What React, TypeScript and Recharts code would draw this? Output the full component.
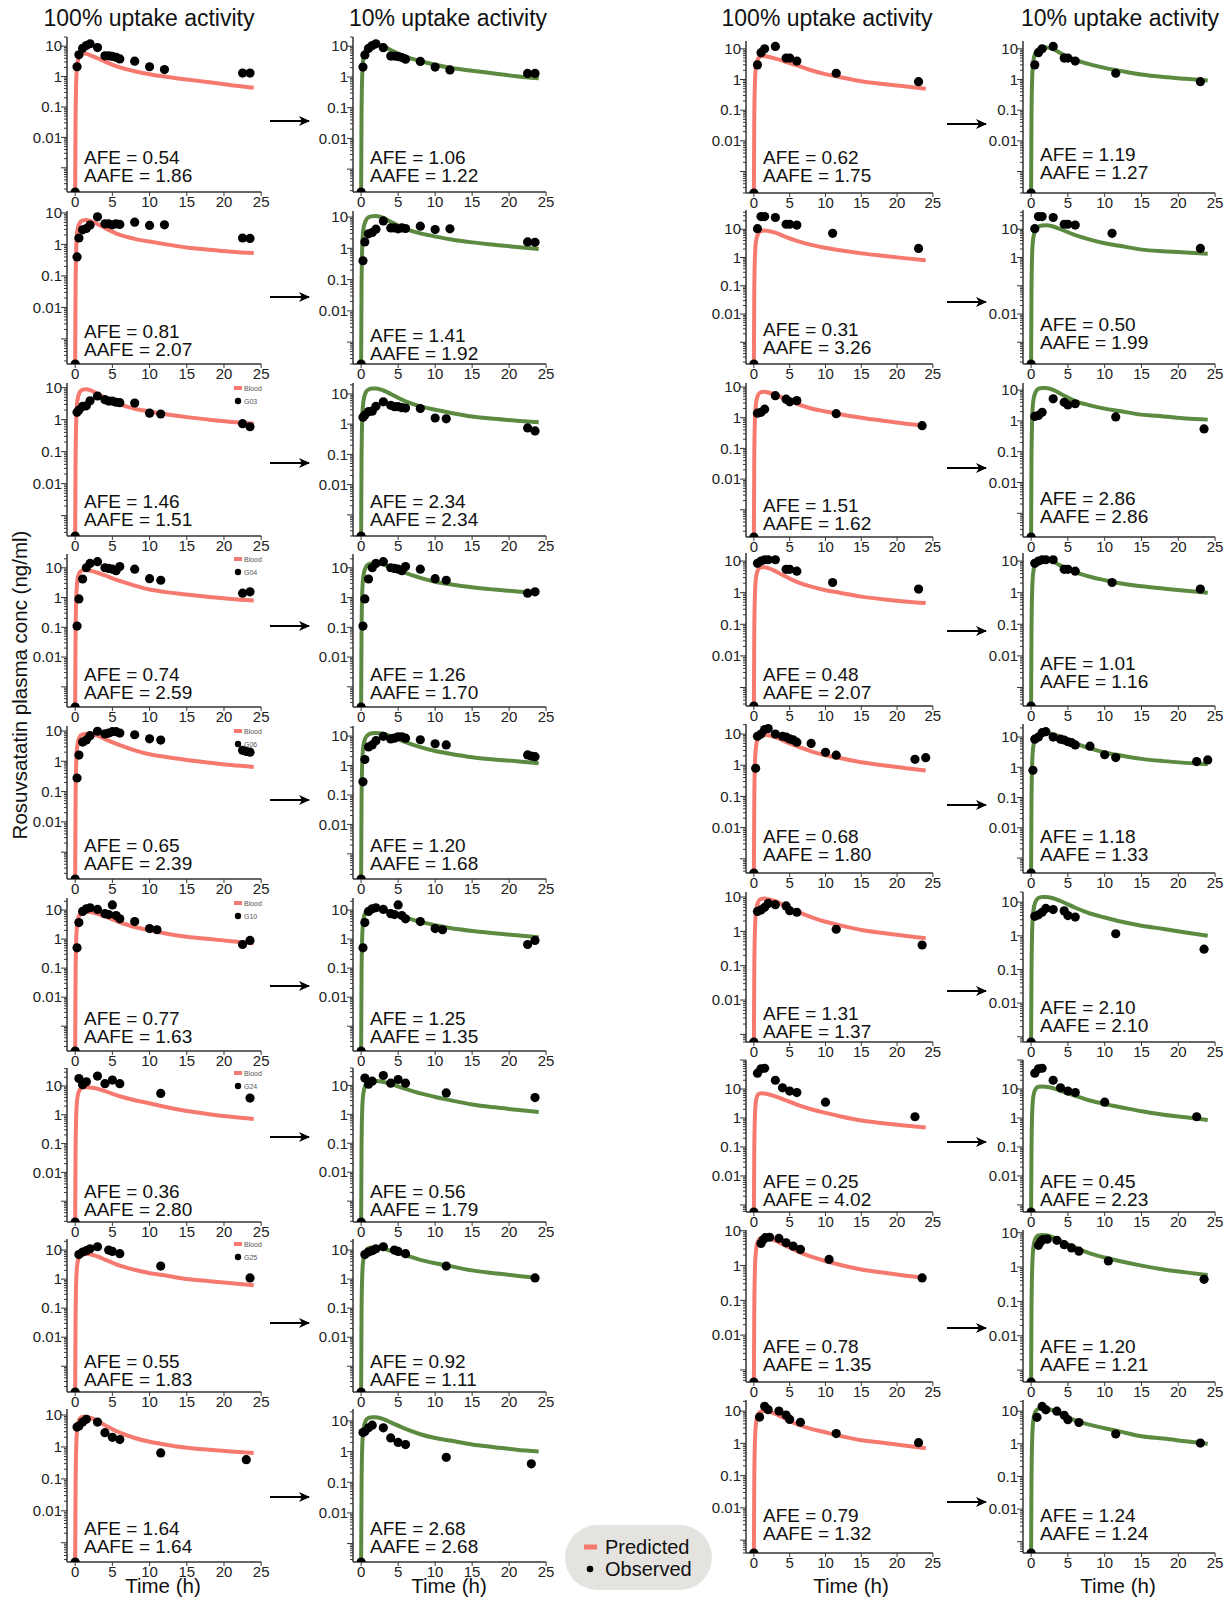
import React from 'react';
import { ComposedChart, Line, Scatter, XAxis, YAxis } from 'recharts';

const FONT = '"Liberation Sans", Arial, Helvetica, sans-serif';
const RED = '#F6796F';
const GREEN = '#5C8A40';

// ---------- DATA ----------
// predicted time grid (h)
const predTimes = [0, 0.05, 0.15, 0.3, 0.6, 1, 1.5, 2, 3, 4, 6, 8, 10, 12, 15, 18, 21, 24];

// predicted, column 1 (100% uptake, left group)
const predA1 = [0, 0.04, 0.8, 2.8, 4.9, 5.8, 5.6, 5.1, 4.0, 3.1, 2.0, 1.5, 1.2, 1.0, 0.8, 0.65, 0.52, 0.43];
const predA2 = [0, 0.04, 0.8, 2.8, 4.8, 5.8, 6.0, 5.6, 4.4, 3.3, 2.0, 1.5, 1.23, 1.02, 0.8, 0.68, 0.59, 0.53];
const predA3 = [0, 0.05, 1.1, 4.0, 7.2, 8.7, 9.0, 8.4, 6.5, 4.8, 3.0, 2.2, 1.8, 1.5, 1.2, 1.0, 0.85, 0.75];
const predA4 = [0, 0.05, 1.1, 3.8, 7.0, 8.3, 8.5, 8.0, 6.8, 5.5, 3.6, 2.5, 1.85, 1.55, 1.26, 1.05, 0.9, 0.8];
const predA5 = [0, 0.04, 1.0, 3.5, 6.4, 7.7, 8.1, 8.0, 7.0, 5.4, 3.4, 2.3, 1.7, 1.4, 1.1, 0.9, 0.75, 0.65];
const predA6 = [0, 0.05, 1.1, 3.8, 7.0, 8.3, 8.6, 8.5, 7.4, 6.0, 3.8, 2.6, 2.0, 1.6, 1.2, 1.0, 0.85, 0.72];
const predA7 = [0, 0.05, 1.1, 4.0, 7.3, 8.8, 9.1, 8.9, 8.0, 6.6, 4.4, 3.2, 2.5, 1.9, 1.35, 1.05, 0.85, 0.72];
const predA8 = [0, 0.04, 1.0, 3.4, 6.2, 7.3, 7.5, 7.2, 6.0, 4.7, 2.9, 2.1, 1.6, 1.35, 1.0, 0.85, 0.72, 0.62];
const predA9 = [0, 0.05, 1.2, 4.2, 7.5, 8.8, 8.8, 8.2, 6.5, 4.8, 2.8, 1.9, 1.45, 1.2, 0.95, 0.82, 0.72, 0.65];

// predicted, column 2 (10% uptake, left group)
const predB1 = [0, 0.05, 1.2, 4.0, 7.5, 9.8, 10.8, 11.0, 10.0, 7.5, 4.6, 3.3, 2.5, 2.0, 1.6, 1.3, 1.05, 0.9];
const predB2 = [0, 0.05, 1.2, 4.0, 7.5, 9.8, 10.6, 10.8, 9.5, 7.0, 4.2, 3.0, 2.4, 1.95, 1.55, 1.3, 1.1, 0.95];
const predB3 = [0, 0.06, 1.6, 5.5, 11, 14, 15, 15, 13, 10, 5.7, 3.9, 3.0, 2.4, 1.8, 1.5, 1.3, 1.15];
const predB4 = [0, 0.06, 1.5, 5.2, 10, 13, 14, 14, 12.8, 10.5, 6.8, 4.6, 3.4, 2.8, 2.2, 1.85, 1.6, 1.45];
const predB5 = [0, 0.05, 1.3, 4.5, 8.8, 11.3, 12.4, 12.7, 12, 10, 6.2, 4.2, 3.1, 2.5, 1.9, 1.6, 1.4, 1.2];
const predB6 = [0, 0.05, 1.3, 4.5, 8.5, 10.6, 11.2, 11.2, 10.2, 8.5, 5.6, 3.9, 3.0, 2.4, 1.9, 1.6, 1.35, 1.15];
const predB7 = [0, 0.06, 1.6, 5.3, 10.3, 13, 14, 14.2, 13.2, 11.2, 7.6, 5.3, 4.0, 3.1, 2.2, 1.75, 1.45, 1.2];
const predB8 = [0, 0.06, 1.4, 4.8, 9.3, 11.6, 12.3, 12.3, 11.2, 9.4, 6.6, 4.6, 3.5, 2.8, 2.0, 1.6, 1.3, 1.1];
const predB9 = [0, 0.06, 1.5, 5.2, 10, 12.6, 13.3, 13.2, 11.5, 9.0, 5.5, 3.7, 2.8, 2.3, 1.7, 1.4, 1.15, 1.0];

// predicted, column 3 (100% uptake, right group)
const predC1 = [0, 0.04, 0.8, 2.8, 4.8, 5.7, 5.8, 5.5, 4.8, 4.1, 2.9, 2.0, 1.5, 1.2, 0.88, 0.72, 0.6, 0.5];
const predC2 = [0, 0.05, 1.1, 3.8, 7.0, 8.6, 9.0, 8.7, 7.6, 6.0, 3.9, 2.8, 2.2, 1.8, 1.4, 1.15, 0.95, 0.8];
const predC3 = [0, 0.04, 0.9, 3.0, 5.6, 6.8, 7.0, 6.6, 5.6, 4.5, 2.8, 2.0, 1.6, 1.3, 1.0, 0.8, 0.65, 0.55];
const predC4 = [0, 0.04, 0.9, 3.0, 5.4, 6.4, 6.4, 6.0, 4.8, 3.6, 2.2, 1.55, 1.2, 1.0, 0.75, 0.62, 0.53, 0.47];
const predC5 = [0, 0.05, 1.2, 4.0, 7.5, 9.2, 9.5, 9.2, 8.0, 6.3, 4.1, 2.8, 2.1, 1.7, 1.25, 1.0, 0.82, 0.68];
const predC6 = [0, 0.05, 1.1, 3.9, 7.2, 8.8, 9.0, 8.7, 7.6, 6.0, 3.8, 2.6, 1.9, 1.5, 1.1, 0.9, 0.75, 0.63];
const predC7 = [0, 0.05, 1.2, 4.0, 6.5, 7.1, 7.0, 6.6, 5.6, 4.5, 2.9, 2.0, 1.5, 1.15, 0.82, 0.66, 0.55, 0.47];
const predC8 = [0, 0.04, 0.8, 2.8, 5.2, 6.2, 6.4, 6.2, 5.2, 4.1, 2.6, 1.8, 1.35, 1.05, 0.77, 0.63, 0.52, 0.44];
const predC9 = [0, 0.05, 1.2, 4.3, 8.0, 9.7, 10, 9.6, 8.2, 6.4, 3.9, 2.8, 2.2, 1.7, 1.25, 1.05, 0.85, 0.7];

// predicted, column 4 (10% uptake, right group)
const predD1 = [0, 0.05, 1.2, 4.0, 7.5, 9.8, 10.8, 11.0, 9.8, 7.2, 4.4, 3.1, 2.4, 1.95, 1.45, 1.2, 1.05, 0.93];
const predD2 = [0, 0.06, 1.5, 5.0, 9.5, 12.5, 13.7, 13.8, 12.5, 10, 6.2, 4.3, 3.2, 2.6, 1.9, 1.65, 1.5, 1.35];
const predD3 = [0, 0.05, 1.3, 4.5, 8.5, 11, 11.8, 11.8, 10.2, 7.6, 4.4, 3.2, 2.5, 2.1, 1.6, 1.4, 1.2, 1.1];
const predD4 = [0, 0.05, 1.3, 4.5, 8.5, 10.8, 11.5, 11.3, 9.5, 7.2, 4.5, 3.2, 2.5, 2.0, 1.6, 1.35, 1.15, 1.0];
const predD5 = [0, 0.06, 1.5, 5.0, 9.5, 12.5, 13.8, 14, 12.5, 10, 6.3, 4.2, 3.1, 2.5, 1.9, 1.6, 1.4, 1.25];
const predD6 = [0, 0.06, 1.6, 5.3, 10.3, 13.2, 14.2, 14.3, 13, 10.8, 6.8, 4.6, 3.5, 2.7, 2.0, 1.6, 1.25, 1.0];
const predD7 = [0, 0.06, 1.6, 5.5, 10, 12, 12.3, 12, 10.6, 8.7, 5.8, 4.0, 3.0, 2.4, 1.7, 1.3, 1.05, 0.85];
const predD8 = [0, 0.05, 1.0, 3.6, 6.8, 8.3, 8.6, 8.4, 7.3, 5.8, 3.7, 2.5, 1.9, 1.5, 1.1, 0.85, 0.7, 0.58];
const predD9 = [0, 0.06, 1.5, 5.2, 9.8, 11.8, 12.2, 12.0, 10.5, 8.3, 5.2, 3.8, 3.0, 2.4, 1.7, 1.45, 1.2, 1.0];

// observed [time h, conc ng/ml], left group subjects (rows 1-9)
const obsL1 = [[0, 0], [0.25, 2.1], [0.5, 5.2], [1, 8.5], [1.5, 10.5], [2, 12], [3, 9], [4, 4.8], [4.5, 4.8], [5, 4.6], [5.5, 4.3], [6, 3.8], [8, 3.2], [10, 2.1], [12, 1.7], [22.5, 1.3], [23.5, 1.3]];
const obsL2 = [[0, 0], [0.25, 0.4], [0.5, 1.6], [1, 2.9], [1.5, 3.2], [2, 4.1], [3, 7.5], [4, 4.5], [4.5, 4.5], [5, 4.2], [5.5, 4.5], [6, 4.3], [8, 5.1], [10, 4.0], [12, 4.2], [22.5, 1.6], [23.5, 1.55]];
const obsL3 = [[0, 0], [0.25, 1.7], [0.5, 2.0], [1, 2.6], [1.5, 2.7], [2, 3.9], [3, 5.5], [4, 4.2], [4.5, 3.8], [5, 3.8], [5.5, 3.5], [6, 3.4], [8, 3.3], [10, 1.6], [11.5, 1.5], [22.5, 0.75], [23.5, 0.6]];
const obsL4 = [[0, 0], [0.25, 0.11], [0.5, 0.9], [1, 4.2], [1.5, 10], [2, 14], [3, 16], [4, 10], [4.5, 9.5], [5, 9], [5.5, 8], [6, 11], [8, 9], [10, 4.3], [11.5, 3.8], [22.5, 1.4], [23.5, 1.55]];
const obsL5 = [[0, 0], [0.25, 0.28], [0.5, 1.6], [1, 4.3], [1.5, 5], [2, 7], [3, 9.8], [4, 8], [4.5, 8.5], [5, 9.5], [5.5, 9.5], [6, 8.5], [8, 7.5], [10, 5.5], [11.5, 5], [22.5, 2.3], [23, 2.1], [23.5, 2.0]];
const obsL6 = [[0, 0], [0.25, 0.5], [0.5, 3.7], [1, 9], [1.5, 11], [2, 12], [3, 10.5], [4, 7.5], [4.5, 7], [5, 15], [5.5, 6.5], [6, 5], [8, 4], [10, 2.3], [11, 2.1], [22.5, 0.65], [23.5, 0.9]];
const obsL7 = [[0, 0], [0.5, 18], [1, 11], [1.5, 14], [3, 22], [4, 12], [5, 16], [6, 12], [11.5, 5.5], [23.5, 3.8]];
const obsL8 = [[0, 0], [0.5, 7], [1, 8.5], [1.5, 9.5], [2, 11], [3, 13], [4.5, 10], [5, 9], [6, 7.5], [11.5, 2.8], [23.5, 1.1]];
const obsL9 = [[0, 0], [0.25, 4.2], [0.5, 4.5], [1, 6], [1.5, 7.3], [3, 6], [4, 2.8], [5, 2.0], [6, 1.7], [11.5, 0.65], [23, 0.4]];

// observed, right group subjects (rows 1-9)
const obsR1 = [[0, 0], [0.5, 3], [1, 7.5], [1.5, 10], [3, 12], [4.5, 5], [5, 5], [6, 4], [11.5, 1.6], [23, 0.85]];
const obsR2 = [[0, 0], [0.5, 10.5], [1, 28], [1.5, 28], [3, 26], [4.5, 15], [5, 15], [6, 14], [11, 7.2], [23, 2.1]];
const obsR3 = [[0, 0], [0.5, 1.4], [1, 1.5], [1.5, 1.9], [3, 5.2], [4.5, 4.0], [5, 3.3], [6, 3.6], [11.5, 1.35], [23.5, 0.55]];
const obsR4 = [[0, 0], [0.5, 8.5], [1, 10], [1.5, 11], [2, 11], [3, 11], [4.5, 5.5], [5, 5.5], [6, 4.8], [11, 2.1], [23, 1.3]];
const obsR5 = [[0, 0], [0.25, 0.8], [0.5, 8.5], [1, 10], [1.5, 14], [2, 15], [3, 10], [4, 8.5], [4.5, 8], [5, 7], [5.5, 6.5], [6, 5.5], [8, 5], [10, 2.6], [11.5, 2.1], [22.5, 1.55], [24, 1.75]];
const obsR6 = [[0, 0], [0.5, 3.8], [1, 4.2], [1.5, 5], [2, 6.5], [3, 6], [4.5, 5.5], [5, 4], [6, 3.6], [11.5, 1.15], [23.5, 0.4]];
const obsR7 = [[0, 0], [0.5, 35], [1, 50], [1.5, 52], [3, 20], [4, 11], [5, 8.5], [6, 7.5], [10, 3.5], [22.5, 1.1]];
const obsR8 = [[0, 0], [1, 4.3], [1.3, 5.5], [1.6, 6.3], [2.2, 6.5], [3.5, 6], [4.5, 4.5], [5.5, 3.6], [6.5, 2.9], [10.5, 1.5], [23.5, 0.44]];
const obsR9 = [[0, 0], [0.8, 6.5], [1.5, 14], [2, 11], [3.5, 10], [4.5, 7.5], [5, 5.5], [6.5, 4.5], [11.5, 2.0], [23, 1.05]];

// AFE / AAFE per column
const afeA = ['0.54', '0.81', '1.46', '0.74', '0.65', '0.77', '0.36', '0.55', '1.64'];
const aafeA = ['1.86', '2.07', '1.51', '2.59', '2.39', '1.63', '2.80', '1.83', '1.64'];
const afeB = ['1.06', '1.41', '2.34', '1.26', '1.20', '1.25', '0.56', '0.92', '2.68'];
const aafeB = ['1.22', '1.92', '2.34', '1.70', '1.68', '1.35', '1.79', '1.11', '2.68'];
const afeC = ['0.62', '0.31', '1.51', '0.48', '0.68', '1.31', '0.25', '0.78', '0.79'];
const aafeC = ['1.75', '3.26', '1.62', '2.07', '1.80', '1.37', '4.02', '1.35', '1.32'];
const afeD = ['1.19', '0.50', '2.86', '1.01', '1.18', '2.10', '0.45', '1.20', '1.24'];
const aafeD = ['1.27', '1.99', '2.86', '1.16', '1.33', '2.10', '2.23', '1.21', '1.24'];

// y-axis domains (ng/ml) per panel
const yMaxA = [20, 11.5, 14, 29, 14.6, 26, 42, 24, 15.4];
const yMinA = [1.6e-4, 1.6e-4, 2.3e-4, 2.1e-4, 1.3e-4, 1.4e-4, 1.9e-4, 1.3e-4, 2.5e-4];
const yMaxB = [20, 15.6, 23, 29, 22, 26, 40, 24, 24.6];
const yMinB = [1.8e-4, 2e-4, 2e-4, 2.1e-4, 1.4e-4, 1.4e-4, 1.9e-4, 1.3e-4, 2.5e-4];
const yMaxC = [18, 48, 13.5, 18, 21, 14, 100, 10.5, 22];
const yMinC = [2e-4, 1.7e-4, 1.3e-4, 2.6e-4, 3.5e-4, 6e-4, 5.7e-4, 4.5e-4, 4e-4];
const yMaxD = [18, 48, 17, 18, 27, 20, 100, 12, 22];
const yMinD = [2e-4, 1.7e-4, 1.7e-4, 2.6e-4, 3.2e-4, 7e-4, 5.7e-4, 4.5e-4, 4.5e-4];

const xTicks = [0, 5, 10, 15, 20, 25];
const yLabelText: Record<string, string> = { '-2': '0.01', '-1': '0.1', '0': '1', '1': '10' };
const subjectLabels = ['', '', 'G03', 'G04', 'G06', 'G10', 'G24', 'G25', ''];
const columnTitles = ['100% uptake activity', '10% uptake activity', '100% uptake activity', '10% uptake activity'];
const legendNames = ['Predicted', 'Observed'];

// ---------- LAYOUT ----------
const XMIN = -1.1;
const COLS = [
  { x0: 75, x25: 261, pred: [predA1, predA2, predA3, predA4, predA5, predA6, predA7, predA8, predA9], obs: [obsL1, obsL2, obsL3, obsL4, obsL5, obsL6, obsL7, obsL8, obsL9], yMax: yMaxA, yMin: yMinA, afe: afeA, aafe: aafeA, color: RED, right: false, afeOff: [-35, -33, -35, -33, -34, -33, -31, -31, -34] },
  { x0: 361, x25: 546, pred: [predB1, predB2, predB3, predB4, predB5, predB6, predB7, predB8, predB9], obs: [obsL1, obsL2, obsL3, obsL4, obsL5, obsL6, obsL7, obsL8, obsL9], yMax: yMaxB, yMin: yMinB, afe: afeB, aafe: aafeB, color: GREEN, right: false, afeOff: [-35, -29, -35, -33, -34, -33, -31, -31, -34] },
  { x0: 754, x25: 933, pred: [predC1, predC2, predC3, predC4, predC5, predC6, predC7, predC8, predC9], obs: [obsR1, obsR2, obsR3, obsR4, obsR5, obsR6, obsR7, obsR8, obsR9], yMax: yMaxC, yMin: yMinC, afe: afeC, aafe: aafeC, color: RED, right: true, afeOff: [-36, -35, -32, -32, -37, -29, -31, -36, -38] },
  { x0: 1031, x25: 1215, pred: [predD1, predD2, predD3, predD4, predD5, predD6, predD7, predD8, predD9], obs: [obsR1, obsR2, obsR3, obsR4, obsR5, obsR6, obsR7, obsR8, obsR9], yMax: yMaxD, yMin: yMinD, afe: afeD, aafe: aafeD, color: GREEN, right: true, afeOff: [-39, -40, -39, -43, -37, -35, -31, -36, -38] },
];
const leftTops = [37, 211, 383, 554, 726, 898, 1068, 1239, 1409];
const leftBottoms = [192, 364, 536, 707, 879, 1051, 1222, 1392, 1562];
const rightTops = [41, 210, 383, 553, 724, 892, 1060, 1230, 1400];
const rightBottoms = [193, 364, 537, 706, 873, 1042, 1212, 1382, 1553];
const leftArrowY = [121, 297, 463, 626, 800, 986, 1137, 1323, 1497];
const rightArrowY = [124, 302, 468, 631, 805, 991, 1142, 1328, 1502];
const titleX = [149, 448, 827, 1120];
const timeX = [163, 449, 851, 1118];

const YW = 48;
const TM = 12;
const RM = 10;
const XH = 26;
const TICK_FS = 15;

function logTicks(lo: number, hi: number) {
  const out: number[] = [];
  for (let k = -5; k <= 3; k++) {
    for (let m = 1; m <= 9; m++) {
      const v = Number((m * Math.pow(10, k)).toPrecision(6));
      if (v >= lo * 0.999 && v <= hi * 1.001) out.push(v);
    }
  }
  return out;
}

const YTick = (props: any) => {
  const { y, payload, hideExp } = props;
  const v = payload.value;
  const lg = Math.log10(v);
  const e = Math.round(lg);
  const major = Math.abs(lg - e) < 1e-6;
  const lab = major && e !== hideExp ? yLabelText[String(e)] : undefined;
  return (
    <g>
      <line x1={YW - (major ? 6 : 3)} x2={YW} y1={y} y2={y} stroke="#333" strokeWidth={1} />
      {lab && (
        <text x={YW - 5} y={y} dy="0.35em" textAnchor="end" fontSize={TICK_FS} fill="#222" fontFamily={FONT}>
          {lab}
        </text>
      )}
    </g>
  );
};

const Dot = (p: any) => <circle cx={p.cx} cy={p.cy} r={4.6} fill="#000" />;

function Panel(props: any) {
  const { axisX, plotW, top, bottom, yMin, yMax, pred, obs, color, hideExp } = props;
  const plotH = bottom - top;
  const predData = predTimes.map((t, i) => ({ t, v: Math.max(pred[i], yMin) }));
  const obsData = obs.map((o: number[]) => ({ t: o[0], v: Math.max(o[1], yMin) }));
  const ticks = logTicks(yMin, yMax);
  return (
    <div style={{ position: 'absolute', left: axisX - YW, top: top - TM }}>
      <ComposedChart width={YW + plotW + RM} height={TM + plotH + XH} margin={{ top: TM, right: RM, bottom: 0, left: 0 }}>
        <XAxis
          dataKey="t"
          type="number"
          domain={[XMIN, 25]}
          ticks={xTicks}
          interval={0}
          allowDataOverflow
          height={XH}
          tickSize={4}
          tickMargin={0}
          axisLine={{ stroke: '#333', strokeWidth: 1.5 }}
          tickLine={{ stroke: '#333' }}
          tick={{ fontSize: TICK_FS, fill: '#222', fontFamily: FONT }}
        />
        <YAxis
          dataKey="v"
          type="number"
          scale="log"
          domain={[yMin, yMax]}
          allowDataOverflow
          ticks={ticks}
          interval={0}
          width={YW}
          axisLine={{ stroke: '#333', strokeWidth: 1.5 }}
          tickLine={false}
          tick={(p: any) => <YTick {...p} hideExp={hideExp} />}
        />
        <Line data={predData} dataKey="v" type="monotone" stroke={color} strokeWidth={4} dot={false} isAnimationActive={false} />
        <Scatter data={obsData} dataKey="v" fill="#000" shape={Dot} isAnimationActive={false} />
      </ComposedChart>
    </div>
  );
}

export default function App() {
  const panels: any[] = [];
  const texts: any[] = [];
  COLS.forEach((c, ci) => {
    const unit = (c.x25 - c.x0) / 25;
    const axisX = c.x0 + XMIN * unit;
    const plotW = c.x25 - axisX;
    const tops = c.right ? rightTops : leftTops;
    const bottoms = c.right ? rightBottoms : leftBottoms;
    for (let r = 0; r < 9; r++) {
      panels.push(
        <Panel
          key={`p${ci}-${r}`}
          axisX={axisX}
          plotW={plotW}
          top={tops[r]}
          bottom={bottoms[r]}
          yMin={c.yMin[r]}
          yMax={c.yMax[r]}
          pred={c.pred[r]}
          obs={c.obs[r]}
          color={c.color}
          hideExp={ci === 3 && r === 1 ? -1 : 99}
        />
      );
      const base = bottoms[r] + c.afeOff[r] + 7;
      texts.push(
        <text key={`a${ci}-${r}`} x={c.x0 + 9} y={base} fontSize={19} fill="#111" fontFamily={FONT}>
          {`AFE = ${c.afe[r]}`}
        </text>
      );
      texts.push(
        <text key={`b${ci}-${r}`} x={c.x0 + 9} y={base + 17.5} fontSize={19} fill="#111" fontFamily={FONT}>
          {`AAFE = ${c.aafe[r]}`}
        </text>
      );
      if (ci === 0 && subjectLabels[r]) {
        const t = tops[r];
        texts.push(
          <g key={`lg${r}`}>
            <rect x={234} y={t + 3} width={8} height={4} fill={RED} />
            <text x={244} y={t + 8} fontSize={7} fill="#555" fontFamily={FONT}>Blood</text>
            <circle cx={238} cy={t + 18} r={3.2} fill="#000" />
            <text x={244} y={t + 20.5} fontSize={7} fill="#555" fontFamily={FONT}>{subjectLabels[r]}</text>
          </g>
        );
      }
    }
  });

  return (
    <div style={{ position: 'absolute', left: 0, top: 0, width: 1231, height: 1597, background: '#fff', fontFamily: FONT }}>
      {panels}
      <svg width={1231} height={1597} style={{ position: 'absolute', left: 0, top: 0, pointerEvents: 'none' }}>
        <defs>
          <marker id="ah" markerWidth={11} markerHeight={10} refX={10} refY={5} orient="auto" markerUnits="userSpaceOnUse">
            <path d="M0,0 L11,5 L0,10 L3,5 z" fill="#000" />
          </marker>
        </defs>
        {columnTitles.map((t, i) => (
          <text key={`t${i}`} x={titleX[i]} y={26} fontSize={23} textAnchor="middle" fill="#111" fontFamily={FONT}>
            {t}
          </text>
        ))}
        {leftArrowY.map((y, i) => (
          <line key={`la${i}`} x1={270} x2={309} y1={y} y2={y} stroke="#000" strokeWidth={2.2} markerEnd="url(#ah)" />
        ))}
        {rightArrowY.map((y, i) => (
          <line key={`ra${i}`} x1={947} x2={986} y1={y} y2={y} stroke="#000" strokeWidth={2.2} markerEnd="url(#ah)" />
        ))}
        {texts}
        <text transform="translate(27,685) rotate(-90)" textAnchor="middle" fontSize={20.5} fill="#111" fontFamily={FONT}>
          Rosuvsatatin plasma conc (ng/ml)
        </text>
        {timeX.map((x, i) => (
          <text key={`tm${i}`} x={x} y={1593} fontSize={20.5} textAnchor="middle" fill="#111" fontFamily={FONT}>
            Time (h)
          </text>
        ))}
        <rect x={565} y={1525} width={147} height={65} rx={32.5} fill="#E4E3DF" />
        <line x1={584} x2={597} y1={1547} y2={1547} stroke={RED} strokeWidth={5} />
        <text x={605} y={1554} fontSize={20} fill="#111" fontFamily={FONT}>{legendNames[0]}</text>
        <circle cx={590} cy={1569} r={3.3} fill="#000" />
        <text x={605} y={1576} fontSize={20} fill="#111" fontFamily={FONT}>{legendNames[1]}</text>
      </svg>
    </div>
  );
}
